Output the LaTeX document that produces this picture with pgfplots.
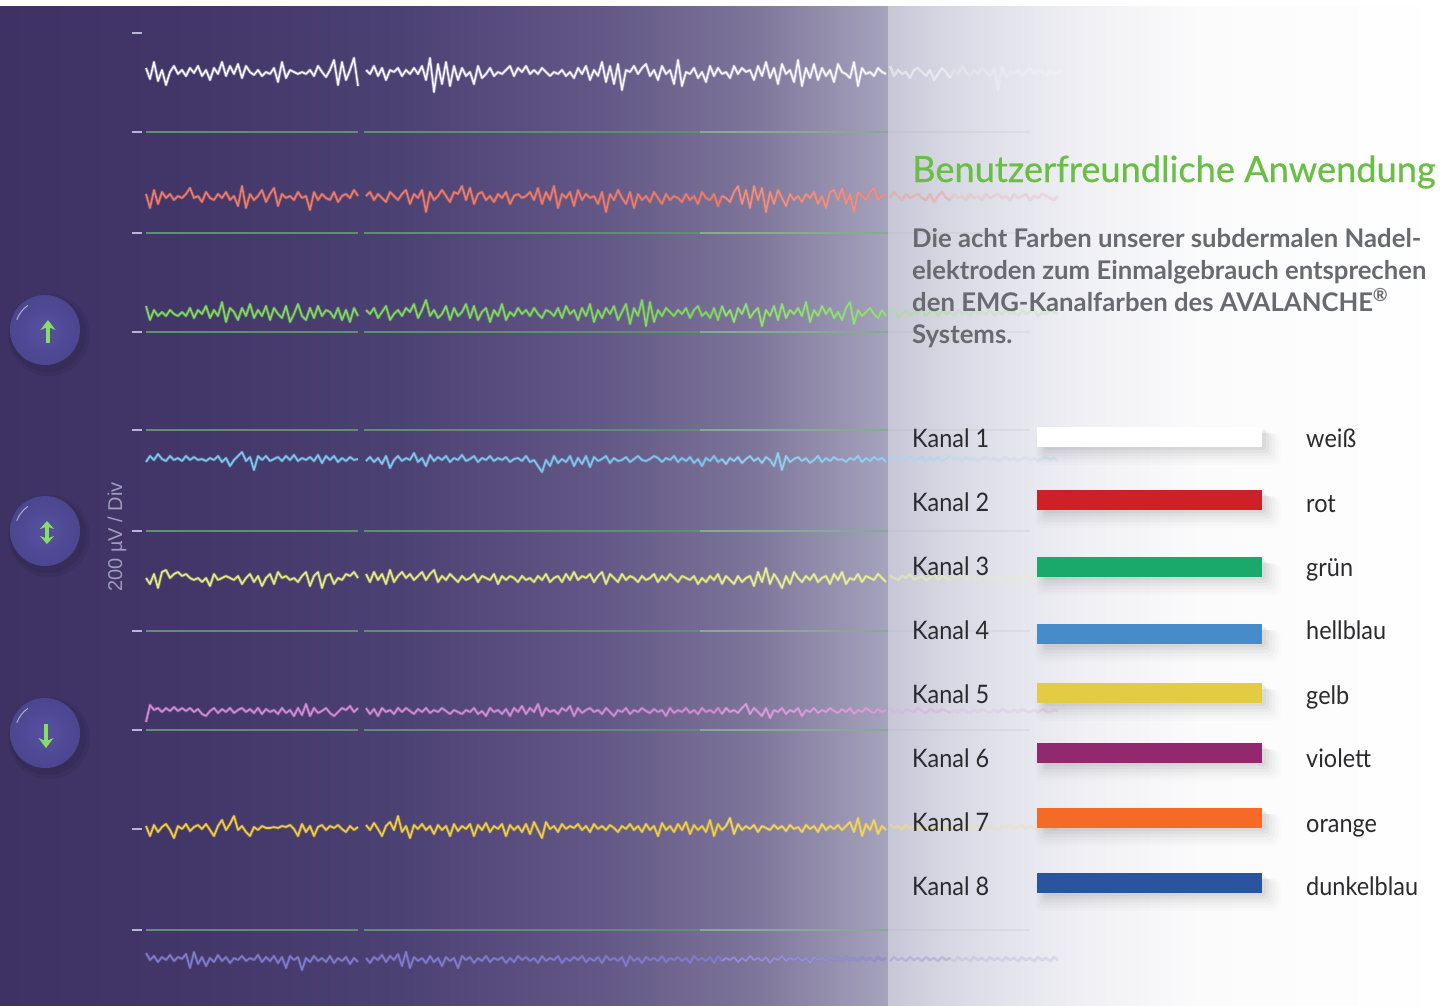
\documentclass[border=0pt]{standalone}
\usepackage{fontspec}
\setmainfont{Lato}
\newfontfamily\labelfont{Liberation Sans}
\newfontfamily\titlefont[FakeBold=0.5]{Lato}
\newfontfamily\chanfont[FakeStretch=0.92]{Lato}
\usepackage{pgfplots}
\usepackage{pgfplotstable}
\pgfplotsset{compat=1.18}
\usetikzlibrary{arrows.meta}

\definecolor{a0}{HTML}{3D3263}
\definecolor{a1}{HTML}{423768}
\definecolor{a2}{HTML}{4C4173}
\definecolor{a3}{HTML}{625786}
\definecolor{a4}{HTML}{7D7499}
\definecolor{a5}{HTML}{A6A3BD}
\definecolor{b0}{HTML}{C6C6D7}
\definecolor{b1}{HTML}{D8D8E4}
\definecolor{b2}{HTML}{E2E2EC}
\definecolor{b3}{HTML}{F2F2F6}
\definecolor{b4}{HTML}{FBFBFC}
\definecolor{gridc}{HTML}{5F8E70}
\definecolor{tickc}{HTML}{B8B8D4}
\definecolor{titlec}{HTML}{69BE45}
\definecolor{parac}{HTML}{696A70}
\definecolor{textc}{HTML}{2B2B2D}
\definecolor{arrowc}{HTML}{86DE62}
\definecolor{ca}{HTML}{F4F4FA}
\definecolor{cb}{HTML}{EE7A68}
\definecolor{cc}{HTML}{80D85E}
\definecolor{cd}{HTML}{7FC6EE}
\definecolor{ce}{HTML}{E2EC80}
\definecolor{cf}{HTML}{D48AD4}
\definecolor{cg}{HTML}{F0CE40}
\definecolor{ch}{HTML}{7E7ACC}
\definecolor{swr}{HTML}{CD2027}
\definecolor{swg}{HTML}{1AA86B}
\definecolor{swb}{HTML}{468CCB}
\definecolor{swy}{HTML}{E3CB45}
\definecolor{swv}{HTML}{92286E}
\definecolor{swo}{HTML}{F46A26}
\definecolor{swd}{HTML}{2A549E}
\definecolor{btnin}{HTML}{56509F}
\definecolor{btnout}{HTML}{4C4690}
\pgfdeclarehorizontalshading{bgleft}{100bp}{color(0bp)=(a0); color(25bp)=(a0); color(36.3bp)=(a1); color(47.5bp)=(a2); color(58.8bp)=(a3); color(67.2bp)=(a4); color(75bp)=(a5); color(100bp)=(a5)}
\pgfdeclarehorizontalshading{bgright}{100bp}{color(0bp)=(b0); color(25bp)=(b0); color(30.5bp)=(b1); color(34.9bp)=(b2); color(43.8bp)=(b3); color(52.7bp)=(b4); color(75bp)=(white); color(100bp)=(white)}

% channel traces, y in picture pixels, one sample every 4 px from x=146
\pgfplotstableread[row sep=\\,header=false]{
68\\79\\62\\81\\70\\85\\72\\66\\74\\70\\76\\68\\73\\66\\76\\70\\80\\68\\74\\62\\76\\66\\74\\64\\78\\66\\72\\75\\70\\76\\72\\74\\68\\82\\62\\78\\70\\72\\74\\72\\74\\70\\76\\66\\72\\77\\70\\60\\85\\62\\80\\70\\58\\86\\nan\\
70\\74\\66\\76\\68\\80\\70\\72\\68\\76\\70\\74\\68\\74\\66\\80\\58\\92\\64\\84\\62\\86\\66\\80\\68\\76\\72\\84\\66\\78\\74\\68\\76\\72\\74\\70\\66\\76\\68\\72\\
66\\74\\70\\74\\68\\72\\76\\72\\74\\70\\76\\72\\78\\68\\74\\66\\80\\70\\76\\62\\82\\66\\84\\64\\90\\70\\72\\66\\74\\68\\64\\76\\70\\80\\66\\74\\70\\84\\60\\86\\
72\\74\\68\\78\\72\\82\\66\\76\\68\\74\\72\\78\\66\\74\\68\\72\\70\\80\\66\\76\\62\\78\\68\\84\\64\\74\\70\\82\\60\\86\\68\\78\\64\\80\\68\\76\\70\\82\\64\\72\\
74\\78\\62\\86\\68\\74\\72\\76\\68\\72\\74\\66\\76\\70\\74\\72\\78\\70\\68\\72\\76\\70\\80\\74\\68\\72\\78\\70\\74\\66\\72\\76\\70\\74\\68\\72\\76\\68\\90\\66\\
78\\72\\74\\70\\76\\72\\68\\74\\70\\72\\76\\70\\74\\72\\70\\74\\
}\tracea
\pgfplotstableread[row sep=\\,header=false]{
194\\208\\190\\204\\192\\198\\194\\200\\196\\198\\194\\188\\198\\196\\202\\192\\198\\200\\194\\198\\192\\200\\196\\206\\186\\208\\194\\200\\196\\190\\202\\194\\188\\206\\194\\198\\196\\200\\192\\198\\196\\210\\192\\200\\194\\198\\200\\192\\202\\196\\194\\198\\190\\196\\nan\\
196\\192\\200\\194\\198\\202\\192\\196\\200\\194\\190\\204\\194\\198\\190\\212\\192\\200\\196\\190\\196\\202\\192\\194\\186\\200\\188\\204\\194\\192\\200\\196\\202\\194\\198\\192\\204\\196\\194\\198\\
196\\192\\200\\188\\204\\192\\200\\186\\208\\194\\198\\192\\206\\190\\200\\194\\198\\196\\204\\192\\212\\194\\200\\190\\198\\204\\192\\208\\194\\200\\196\\202\\192\\198\\204\\194\\200\\196\\198\\202\\
194\\200\\196\\204\\192\\198\\200\\194\\206\\196\\198\\202\\192\\186\\204\\190\\208\\186\\200\\188\\212\\192\\204\\190\\198\\206\\194\\200\\196\\202\\194\\198\\192\\204\\196\\208\\192\\190\\200\\188\\
204\\194\\212\\192\\196\\200\\192\\188\\200\\196\\194\\198\\192\\196\\200\\194\\198\\196\\194\\198\\200\\194\\202\\196\\192\\198\\200\\194\\198\\196\\200\\194\\198\\196\\200\\194\\198\\196\\194\\198\\
196\\200\\194\\198\\196\\194\\200\\196\\198\\194\\196\\198\\200\\196\\
}\traceb
\pgfplotstableread[row sep=\\,header=false]{
306\\320\\310\\316\\312\\316\\310\\314\\316\\312\\316\\308\\318\\310\\314\\306\\318\\310\\316\\302\\322\\308\\312\\320\\308\\316\\304\\318\\310\\316\\306\\320\\308\\314\\318\\306\\322\\314\\304\\316\\320\\308\\318\\306\\316\\310\\312\\318\\308\\320\\310\\322\\308\\316\\nan\\
310\\314\\308\\318\\312\\306\\320\\314\\310\\316\\308\\312\\304\\318\\310\\300\\316\\310\\318\\314\\306\\320\\308\\316\\312\\304\\318\\306\\320\\312\\308\\322\\310\\316\\304\\320\\312\\316\\308\\314\\
310\\316\\308\\314\\318\\310\\312\\316\\308\\318\\306\\314\\310\\320\\308\\316\\304\\322\\310\\318\\308\\314\\306\\320\\312\\304\\324\\308\\316\\300\\326\\302\\322\\310\\316\\308\\312\\316\\310\\314\\
308\\318\\310\\306\\316\\312\\318\\308\\320\\306\\316\\310\\322\\308\\314\\304\\318\\312\\308\\326\\310\\316\\306\\320\\304\\318\\310\\314\\308\\316\\302\\322\\310\\316\\306\\314\\308\\318\\312\\320\\
308\\302\\324\\310\\316\\312\\308\\314\\318\\310\\316\\312\\308\\318\\314\\310\\316\\312\\314\\310\\316\\312\\308\\316\\310\\314\\312\\316\\310\\314\\312\\316\\310\\314\\312\\314\\310\\316\\312\\314\\
310\\314\\312\\316\\310\\314\\312\\310\\316\\312\\314\\310\\312\\314\\
}\tracec
\pgfplotstableread[row sep=\\,header=false]{
462\\456\\460\\454\\459\\461\\456\\460\\458\\461\\456\\460\\457\\460\\459\\461\\458\\460\\456\\462\\458\\466\\460\\456\\452\\461\\457\\470\\456\\460\\456\\461\\459\\457\\461\\456\\460\\455\\461\\458\\460\\457\\461\\455\\463\\456\\460\\456\\462\\458\\461\\457\\460\\459\\nan\\
461\\457\\462\\458\\464\\456\\468\\460\\456\\461\\458\\460\\453\\462\\458\\466\\455\\461\\457\\460\\456\\462\\458\\460\\455\\461\\459\\456\\462\\458\\460\\456\\461\\458\\460\\457\\462\\459\\458\\461\\
456\\462\\460\\466\\472\\460\\466\\456\\463\\459\\462\\456\\466\\458\\464\\456\\467\\457\\461\\459\\456\\463\\458\\461\\460\\457\\462\\459\\456\\460\\461\\459\\456\\458\\462\\458\\460\\456\\462\\458\\
461\\457\\463\\459\\466\\458\\461\\456\\462\\459\\464\\458\\461\\457\\463\\459\\456\\461\\458\\463\\457\\460\\466\\453\\470\\456\\462\\459\\457\\461\\458\\463\\460\\456\\462\\458\\461\\457\\460\\459\\
462\\458\\460\\456\\462\\458\\461\\457\\460\\458\\462\\459\\457\\461\\458\\460\\456\\461\\459\\457\\461\\458\\460\\457\\461\\459\\456\\460\\458\\461\\457\\460\\458\\461\\459\\457\\460\\458\\461\\459\\
457\\460\\458\\461\\459\\457\\460\\458\\461\\459\\457\\460\\458\\461\\
}\traced
\pgfplotstableread[row sep=\\,header=false]{
578\\584\\574\\588\\572\\570\\578\\574\\572\\576\\574\\578\\580\\578\\582\\578\\586\\574\\580\\578\\576\\578\\580\\576\\584\\578\\574\\582\\576\\586\\578\\574\\584\\572\\578\\576\\580\\578\\582\\576\\572\\586\\576\\572\\588\\576\\574\\584\\578\\580\\574\\576\\572\\578\\nan\\
574\\582\\572\\580\\574\\584\\570\\582\\576\\572\\578\\574\\580\\576\\572\\580\\574\\570\\582\\576\\580\\574\\578\\582\\576\\580\\578\\574\\582\\576\\578\\580\\574\\584\\576\\580\\576\\578\\582\\576\\
580\\578\\582\\576\\580\\574\\582\\578\\576\\582\\574\\580\\572\\580\\576\\578\\574\\582\\576\\572\\584\\574\\578\\582\\574\\580\\576\\578\\582\\576\\580\\578\\574\\582\\576\\580\\574\\578\\582\\576\\
578\\580\\576\\584\\578\\582\\576\\580\\574\\584\\576\\580\\584\\576\\582\\578\\576\\586\\572\\582\\568\\584\\574\\580\\588\\576\\584\\572\\578\\582\\576\\580\\574\\582\\578\\576\\584\\574\\580\\572\\
584\\578\\580\\574\\582\\576\\578\\580\\574\\578\\582\\576\\578\\580\\576\\578\\574\\580\\578\\576\\580\\578\\574\\580\\576\\578\\580\\576\\578\\574\\580\\576\\578\\580\\576\\578\\580\\576\\578\\580\\
576\\578\\580\\576\\578\\574\\580\\576\\578\\580\\576\\578\\580\\576\\
}\tracee
\pgfplotstableread[row sep=\\,header=false]{
722\\705\\710\\708\\712\\708\\711\\707\\711\\708\\711\\708\\712\\709\\714\\716\\711\\708\\713\\709\\712\\708\\713\\710\\708\\712\\709\\713\\708\\714\\709\\712\\710\\714\\708\\713\\710\\716\\708\\715\\704\\716\\708\\713\\711\\708\\713\\716\\712\\708\\710\\706\\712\\708\\nan\\
708\\714\\709\\716\\708\\712\\710\\714\\708\\712\\708\\711\\714\\709\\712\\708\\713\\710\\712\\708\\711\\714\\710\\712\\714\\710\\712\\708\\714\\711\\716\\708\\712\\710\\714\\709\\716\\708\\712\\706\\
714\\708\\712\\704\\716\\708\\712\\710\\714\\708\\711\\706\\716\\708\\713\\710\\708\\712\\710\\714\\708\\712\\716\\710\\712\\708\\714\\710\\712\\708\\711\\713\\709\\712\\710\\716\\708\\713\\710\\712\\
708\\713\\710\\714\\708\\712\\710\\713\\708\\714\\708\\712\\710\\713\\708\\704\\714\\708\\712\\716\\708\\718\\710\\712\\708\\714\\710\\712\\708\\716\\710\\712\\708\\713\\710\\712\\708\\711\\713\\709\\
712\\708\\714\\710\\712\\708\\711\\713\\709\\712\\710\\708\\712\\710\\713\\709\\711\\712\\708\\711\\713\\709\\711\\712\\709\\711\\713\\710\\712\\709\\711\\713\\710\\712\\709\\711\\712\\710\\712\\709\\
711\\712\\710\\712\\709\\711\\712\\710\\712\\709\\711\\712\\710\\711\\
}\tracef
\pgfplotstableread[row sep=\\,header=false]{
826\\836\\825\\832\\827\\824\\830\\838\\826\\829\\824\\831\\827\\825\\829\\824\\830\\836\\826\\820\\830\\824\\816\\830\\826\\832\\836\\827\\830\\826\\828\\828\\827\\828\\826\\827\\825\\829\\836\\824\\832\\826\\836\\827\\825\\830\\826\\828\\825\\829\\832\\826\\830\\827\\nan\\
825\\830\\823\\829\\836\\826\\822\\830\\816\\832\\826\\838\\825\\829\\824\\830\\826\\834\\825\\830\\826\\836\\824\\831\\826\\829\\824\\836\\825\\830\\823\\832\\826\\829\\824\\836\\825\\830\\826\\832\\
824\\834\\822\\830\\838\\822\\829\\826\\832\\824\\829\\826\\828\\824\\830\\826\\832\\824\\829\\826\\830\\825\\828\\832\\826\\829\\824\\830\\826\\832\\824\\830\\826\\836\\823\\830\\826\\832\\824\\830\\
822\\834\\825\\830\\826\\832\\820\\836\\824\\830\\826\\818\\834\\824\\830\\826\\829\\825\\832\\826\\828\\830\\825\\829\\826\\831\\825\\829\\827\\832\\825\\829\\826\\832\\824\\830\\826\\829\\825\\830\\
826\\822\\832\\818\\836\\824\\830\\820\\834\\826\\830\\824\\828\\826\\830\\825\\828\\826\\829\\825\\828\\830\\826\\828\\825\\829\\826\\828\\830\\826\\828\\825\\829\\827\\825\\829\\826\\828\\830\\826\\
828\\825\\829\\827\\825\\829\\826\\828\\830\\826\\828\\825\\829\\827\\
}\traceg
\pgfplotstableread[row sep=\\,header=false]{
953\\960\\956\\962\\957\\960\\955\\961\\957\\959\\954\\968\\952\\964\\957\\966\\958\\962\\955\\961\\957\\963\\958\\960\\956\\961\\958\\960\\955\\962\\957\\961\\956\\963\\957\\968\\956\\960\\957\\970\\958\\962\\956\\961\\958\\962\\956\\963\\958\\961\\957\\964\\958\\962\\nan\\
958\\963\\957\\960\\955\\962\\956\\960\\954\\966\\952\\968\\957\\961\\958\\963\\956\\962\\958\\966\\957\\961\\958\\968\\956\\960\\957\\963\\958\\961\\956\\962\\958\\960\\957\\963\\958\\962\\956\\960\\
957\\961\\958\\963\\956\\961\\958\\960\\956\\963\\958\\961\\957\\960\\956\\962\\958\\961\\957\\963\\956\\960\\958\\961\\957\\966\\956\\961\\958\\963\\957\\960\\958\\961\\956\\962\\958\\960\\957\\961\\
958\\963\\956\\960\\958\\961\\957\\963\\956\\961\\958\\960\\957\\962\\958\\961\\956\\960\\958\\961\\957\\963\\958\\960\\956\\961\\958\\960\\957\\961\\958\\963\\957\\960\\958\\961\\957\\960\\958\\961\\
957\\960\\958\\961\\957\\960\\958\\961\\957\\960\\958\\961\\957\\960\\958\\961\\957\\960\\958\\961\\957\\960\\958\\961\\957\\960\\958\\961\\957\\960\\958\\961\\957\\960\\958\\961\\957\\960\\958\\961\\
957\\960\\958\\961\\957\\960\\958\\961\\957\\960\\958\\961\\957\\960\\
}\traceh

% one channel: soft halo, then the line, fading out under the light panel
\newcommand\trace[2]{%
  \addplot[#2,opacity=.3,line width=3.2pt,line join=round,restrict x to domain=146:890] table[x expr=146+4*\coordindex,y index=0]{#1};
  \addplot[#2,line width=1.6pt,line join=round,restrict x to domain=146:722] table[x expr=146+4*\coordindex,y index=0]{#1};
  \addplot[#2!85!white,line width=1.6pt,line join=round,restrict x to domain=722:890] table[x expr=146+4*\coordindex,y index=0]{#1};
  \addplot[#2!70!white,opacity=.55,line width=2.4pt,line join=round,restrict x to domain=890:950] table[x expr=146+4*\coordindex,y index=0]{#1};
  \addplot[#2!70!white,opacity=.25,line width=2.8pt,line join=round,restrict x to domain=950:1062] table[x expr=146+4*\coordindex,y index=0]{#1};
}
\newcommand\divline[1]{%
  \addplot[tickc,line width=1.8pt] coordinates {(132,#1)(142,#1)};
  \addplot[gridc,line width=1.8pt] coordinates {(146,#1)(358,#1)};
  \addplot[gridc,line width=1.8pt] coordinates {(364,#1)(700,#1)};
  \addplot[gridc!75!white,line width=1.8pt] coordinates {(700,#1)(888,#1)};
  \addplot[gridc!60!white,opacity=.16,line width=2pt] coordinates {(888,#1)(1030,#1)};
}
\newcommand\swatch[3]{%
  \fill[black,opacity=.012,rounded corners=8pt] ([shift={(-2pt,-6pt)}]axis cs:1037,#1) rectangle ([shift={(19pt,-18pt)}]axis cs:1262,#2);
  \fill[black,opacity=.016,rounded corners=7pt] ([shift={(0pt,-6pt)}]axis cs:1037,#1) rectangle ([shift={(16pt,-15pt)}]axis cs:1262,#2);
  \fill[black,opacity=.02,rounded corners=6pt] ([shift={(2pt,-6pt)}]axis cs:1037,#1) rectangle ([shift={(13pt,-12pt)}]axis cs:1262,#2);
  \fill[black,opacity=.025,rounded corners=5pt] ([shift={(4pt,-6pt)}]axis cs:1037,#1) rectangle ([shift={(10pt,-9pt)}]axis cs:1262,#2);
  \fill[black,opacity=.03,rounded corners=4pt] ([shift={(6pt,-4pt)}]axis cs:1037,#1) rectangle ([shift={(7pt,-6pt)}]axis cs:1262,#2);
  \fill[black,opacity=.035,rounded corners=3pt] ([shift={(8pt,-2pt)}]axis cs:1037,#1) rectangle ([shift={(4pt,-3pt)}]axis cs:1262,#2);
  \addplot[fill=#3,draw=none] coordinates {(1037,#1)(1262,#1)(1262,#2)(1037,#2)} --cycle;
}
\newcommand\button[1]{%
  \fill[black,opacity=.05] ([shift={(4pt,-5pt)}]axis cs:45,#1) circle[radius=41pt];
  \fill[black,opacity=.07] ([shift={(3pt,-4pt)}]axis cs:45,#1) circle[radius=38pt];
  \shade[inner color=btnin,outer color=btnout] (axis cs:45,#1) circle[radius=35pt];
  \draw[white,opacity=.55,line width=1pt] ([shift={(125:30pt)}]axis cs:45,#1) arc[start angle=125,end angle=160,radius=30pt];
}
\newcommand\chan[4]{%
  \node[anchor=base west,font=\chanfont\fontsize{25.5}{26}\selectfont,text=textc,inner sep=0pt] at (axis cs:912,#1) {Kanal #2};
  \node[anchor=base west,font=\chanfont\fontsize{25.5}{26}\selectfont,text=textc,inner sep=0pt] at (axis cs:1306,#4) {#3};
}
\newcommand\para[2]{%
  \node[anchor=base west,font=\fontsize{25.7}{26}\selectfont,text=parac,inner sep=0pt] at (axis cs:912,#1) {\textbf{#2}};
}

\begin{document}
\begin{tikzpicture}
\useasboundingbox (0,0) rectangle (1451pt,1005pt);
\begin{axis}[
    at={(0,0)}, anchor=south west,
    width=1451pt, height=1005pt, scale only axis,
    hide axis,
    xmin=0, xmax=1451, ymin=0, ymax=1005,
    y dir=reverse,
    unbounded coords=jump,
  ]
\shade[shading=bgleft] (axis cs:0,6) rectangle (axis cs:888,1005);
\shade[shading=bgright] (axis cs:888,6) rectangle (axis cs:1451,1005);

\addplot[tickc,line width=1.8pt] coordinates {(132,33)(142,33)};
\addplot[tickc,line width=1.8pt] coordinates {(132,829)(142,829)};
\divline{132}\divline{233}\divline{332}\divline{430}\divline{531}\divline{631}\divline{730}\divline{930}

\trace{\tracea}{ca}
\trace{\traceb}{cb}
\trace{\tracec}{cc}
\trace{\traced}{cd}
\trace{\tracee}{ce}
\trace{\tracef}{cf}
\trace{\traceg}{cg}
\trace{\traceh}{ch}

\button{330}\button{531}\button{733}
\draw[arrowc,line width=3.4pt,-{Stealth[length=10pt,width=15pt]}] (axis cs:48,343) -- (axis cs:48,320);
\draw[arrowc,line width=3.4pt,{Stealth[length=8pt,width=14pt]}-{Stealth[length=8pt,width=14pt]}] (axis cs:47,521) -- (axis cs:47,544);
\draw[arrowc,line width=3.4pt,-{Stealth[length=10pt,width=15pt]}] (axis cs:46,724) -- (axis cs:46,748);

\node[rotate=90,font=\labelfont\fontsize{20}{20}\selectfont,text=tickc!80!a0,inner sep=0pt] at (axis cs:117,537) {200 µV / Div};

\node[anchor=base west,font=\titlefont\fontsize{36.2}{36}\selectfont,text=titlec,inner sep=0pt] at (axis cs:912,182) {Benutzerfreundliche Anwendung};
\para{247}{Die acht Farben unserer subdermalen Nadel-}
\para{279}{elektroden zum Einmalgebrauch entsprechen}
\para{311}{den EMG-Kanalfarben des AVALANCHE\textsuperscript{®}}
\para{343}{Systems.}

\swatch{427}{447}{white}
\swatch{490}{510}{swr}
\swatch{557}{577}{swg}
\swatch{624}{644}{swb}
\swatch{683}{703}{swy}
\swatch{743}{763}{swv}
\swatch{808}{828}{swo}
\swatch{873}{893}{swd}

\chan{447}{1}{weiß}{447}
\chan{511}{2}{rot}{512}
\chan{575}{3}{grün}{576}
\chan{639}{4}{hellblau}{639}
\chan{703}{5}{gelb}{704}
\chan{767}{6}{violett}{767}
\chan{831}{7}{orange}{832}
\chan{895}{8}{dunkelblau}{895}
\end{axis}
\end{tikzpicture}
\end{document}
